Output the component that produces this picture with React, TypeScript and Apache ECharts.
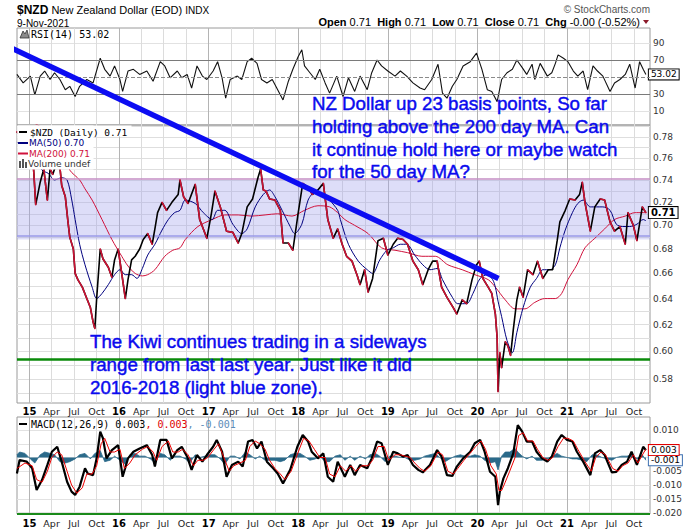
import React, { useEffect, useRef } from 'react';
import * as echarts from 'echarts';

// x values are decimal years (2015.50 = early July 2015)
const nzdClose: [number, number][] = [
  [2014.86,0.785],[2014.91,0.78],[2014.95,0.775],[2015.00,0.78],[2015.03,0.77],[2015.05,0.745],[2015.07,0.718],[2015.12,0.738],[2015.16,0.75],[2015.20,0.722],[2015.23,0.75],[2015.26,0.745],[2015.30,0.755],[2015.33,0.76],[2015.36,0.735],[2015.40,0.725],[2015.43,0.703],[2015.45,0.69],[2015.49,0.68],[2015.51,0.66],[2015.54,0.655],[2015.59,0.649],[2015.64,0.64],[2015.68,0.633],[2015.71,0.622],[2015.73,0.617],[2015.75,0.64],[2015.79,0.68],[2015.82,0.672],[2015.88,0.665],[2015.92,0.657],[2015.95,0.671],[2015.99,0.68],
  [2016.03,0.66],[2016.07,0.64],[2016.10,0.655],[2016.14,0.671],[2016.18,0.674],[2016.23,0.68],[2016.27,0.688],[2016.32,0.693],[2016.37,0.684],[2016.40,0.697],[2016.43,0.711],[2016.48,0.72],[2016.53,0.713],[2016.59,0.72],[2016.66,0.727],[2016.68,0.74],[2016.72,0.725],[2016.77,0.719],[2016.85,0.736],[2016.90,0.705],[2016.98,0.689],
  [2017.03,0.71],[2017.07,0.73],[2017.13,0.716],[2017.20,0.695],[2017.27,0.694],[2017.33,0.685],[2017.37,0.693],[2017.43,0.716],[2017.49,0.723],[2017.55,0.742],[2017.58,0.75],[2017.61,0.731],[2017.64,0.73],[2017.68,0.723],[2017.74,0.722],[2017.80,0.713],[2017.83,0.685],[2017.89,0.685],[2017.94,0.679],
  [2018.00,0.711],[2018.05,0.737],[2018.11,0.733],[2018.16,0.727],[2018.22,0.731],[2018.28,0.737],[2018.33,0.705],[2018.39,0.689],[2018.44,0.697],[2018.49,0.684],[2018.54,0.674],[2018.60,0.67],[2018.66,0.658],[2018.69,0.651],[2018.74,0.663],[2018.78,0.645],[2018.83,0.656],[2018.89,0.687],[2018.95,0.689],
  [2019.00,0.675],[2019.06,0.684],[2019.11,0.689],[2019.17,0.688],[2019.22,0.684],[2019.28,0.67],[2019.34,0.663],[2019.39,0.651],[2019.45,0.663],[2019.50,0.67],[2019.55,0.67],[2019.60,0.649],[2019.66,0.641],[2019.73,0.633],[2019.77,0.628],[2019.83,0.639],[2019.88,0.636],[2019.94,0.655],[2019.99,0.667],
  [2020.02,0.67],[2020.06,0.656],[2020.12,0.649],[2020.16,0.644],[2020.20,0.628],[2020.22,0.61],[2020.23,0.571],[2020.25,0.599],[2020.27,0.588],[2020.31,0.607],[2020.34,0.604],[2020.37,0.597],[2020.40,0.616],[2020.44,0.639],[2020.47,0.649],[2020.51,0.641],[2020.56,0.663],[2020.62,0.659],[2020.67,0.67],[2020.73,0.656],[2020.79,0.663],[2020.84,0.663],[2020.89,0.687],[2020.92,0.703],[2020.98,0.713],
  [2021.03,0.723],[2021.09,0.722],[2021.14,0.727],[2021.17,0.738],[2021.20,0.72],[2021.26,0.695],[2021.31,0.716],[2021.37,0.723],[2021.42,0.722],[2021.48,0.703],[2021.53,0.695],[2021.59,0.699],[2021.65,0.684],[2021.68,0.711],[2021.74,0.70],[2021.78,0.687],[2021.84,0.716],[2021.88,0.711]
];

const ma50: [number, number][] = [
  [2014.86,0.775],[2014.95,0.77],[2015.04,0.765],[2015.14,0.749],[2015.21,0.746],[2015.28,0.74],[2015.36,0.742],[2015.42,0.74],[2015.47,0.723],[2015.51,0.705],[2015.56,0.684],[2015.62,0.667],[2015.70,0.649],[2015.75,0.64],[2015.81,0.644],[2015.88,0.651],[2015.95,0.659],
  [2016.01,0.663],[2016.07,0.659],[2016.14,0.659],[2016.20,0.656],[2016.26,0.664],[2016.32,0.675],[2016.40,0.684],[2016.48,0.696],[2016.55,0.705],[2016.62,0.711],[2016.68,0.713],[2016.74,0.722],[2016.85,0.719],[2016.94,0.711],
  [2017.04,0.705],[2017.10,0.713],[2017.18,0.713],[2017.27,0.701],[2017.37,0.693],[2017.43,0.697],[2017.52,0.716],[2017.61,0.727],[2017.68,0.731],[2017.74,0.725],[2017.82,0.713],[2017.91,0.699],[2017.96,0.693],
  [2018.04,0.701],[2018.11,0.722],[2018.19,0.729],[2018.28,0.727],[2018.35,0.722],[2018.44,0.713],[2018.47,0.705],[2018.56,0.684],[2018.67,0.67],[2018.77,0.663],[2018.83,0.66],[2018.91,0.671],[2018.99,0.679],
  [2019.06,0.681],[2019.14,0.684],[2019.21,0.684],[2019.30,0.675],[2019.39,0.667],[2019.47,0.663],[2019.55,0.664],[2019.61,0.655],[2019.72,0.641],[2019.78,0.636],[2019.88,0.636],[2019.95,0.644],
  [2020.03,0.656],[2020.11,0.659],[2020.17,0.655],[2020.20,0.649],[2020.23,0.638],[2020.27,0.626],[2020.33,0.608],[2020.39,0.599],[2020.44,0.614],[2020.51,0.633],[2020.59,0.649],[2020.66,0.656],[2020.73,0.663],[2020.81,0.663],[2020.87,0.667],[2020.92,0.681],[2020.98,0.696],
  [2021.06,0.711],[2021.12,0.719],[2021.18,0.722],[2021.26,0.716],[2021.33,0.716],[2021.40,0.716],[2021.48,0.713],[2021.55,0.701],[2021.62,0.699],[2021.70,0.699],[2021.78,0.701],[2021.85,0.705],[2021.88,0.704]
];

const ma200: [number, number][] = [
  [2014.86,0.80],[2015.12,0.79],[2015.34,0.77],[2015.45,0.749],[2015.56,0.74],[2015.62,0.732],[2015.70,0.722],[2015.81,0.705],[2015.92,0.688],
  [2016.03,0.674],[2016.10,0.666],[2016.18,0.66],[2016.26,0.658],[2016.32,0.659],[2016.40,0.663],[2016.51,0.674],[2016.60,0.679],[2016.68,0.681],[2016.74,0.688],[2016.88,0.699],
  [2017.04,0.705],[2017.18,0.709],[2017.33,0.709],[2017.48,0.708],[2017.63,0.709],[2017.77,0.71],[2017.93,0.708],
  [2018.07,0.713],[2018.22,0.717],[2018.35,0.716],[2018.44,0.711],[2018.52,0.705],[2018.63,0.70],[2018.78,0.693],[2018.93,0.681],
  [2019.08,0.679],[2019.22,0.677],[2019.38,0.674],[2019.53,0.674],[2019.67,0.667],[2019.83,0.663],[2019.97,0.659],
  [2020.12,0.655],[2020.20,0.649],[2020.31,0.639],[2020.42,0.632],[2020.53,0.632],[2020.64,0.637],[2020.75,0.64],[2020.87,0.64],[2020.94,0.644],
  [2021.01,0.655],[2021.11,0.667],[2021.20,0.681],[2021.31,0.689],[2021.42,0.697],[2021.53,0.705],[2021.65,0.708],[2021.76,0.711],[2021.88,0.711]
];

const rsi14: [number, number][] = [
  [2014.86,53],[2014.93,43],[2015.01,51],[2015.06,29],[2015.12,51],[2015.17,57],[2015.23,47],[2015.28,55],[2015.34,47],[2015.40,35],[2015.45,39],[2015.51,27],[2015.56,39],[2015.64,47],[2015.71,43],[2015.79,72],[2015.84,59],[2015.90,51],[2015.95,63],
  [2016.01,47],[2016.04,33],[2016.10,57],[2016.16,59],[2016.23,53],[2016.31,57],[2016.38,45],[2016.46,68],[2016.51,63],[2016.57,49],[2016.65,57],[2016.70,49],[2016.76,53],[2016.81,37],[2016.87,63],[2016.93,51],[2016.98,47],
  [2017.05,57],[2017.10,68],[2017.15,49],[2017.19,25],[2017.24,47],[2017.32,51],[2017.37,47],[2017.43,68],[2017.48,72],[2017.54,66],[2017.59,47],[2017.65,43],[2017.71,47],[2017.76,37],[2017.83,23],[2017.89,45],[2017.94,59],
  [2018.00,74],[2018.04,82],[2018.07,63],[2018.13,55],[2018.19,47],[2018.24,59],[2018.30,43],[2018.35,31],[2018.43,51],[2018.50,27],[2018.56,49],[2018.63,33],[2018.69,51],[2018.77,35],[2018.82,55],[2018.88,70],[2018.93,63],
  [2019.00,57],[2019.08,51],[2019.14,57],[2019.21,51],[2019.28,43],[2019.36,37],[2019.41,35],[2019.49,47],[2019.56,65],[2019.61,31],[2019.66,25],[2019.72,39],[2019.77,47],[2019.84,63],[2019.92,68],[2019.99,78],
  [2020.05,59],[2020.11,35],[2020.16,33],[2020.22,21],[2020.27,47],[2020.33,55],[2020.39,59],[2020.44,70],[2020.50,61],[2020.55,53],[2020.61,65],[2020.64,47],[2020.70,66],[2020.78,51],[2020.83,55],[2020.87,66],[2020.90,76],[2020.96,72],
  [2021.01,68],[2021.07,57],[2021.12,51],[2021.18,57],[2021.23,35],[2021.29,63],[2021.34,57],[2021.40,51],[2021.48,33],[2021.53,43],[2021.59,47],[2021.65,53],[2021.70,65],[2021.76,37],[2021.81,68],[2021.85,59],[2021.88,53.02]
];

const macdLine: [number, number][] = [
  [2014.86,-0.0058],[2014.89,-0.0009],[2014.97,-0.0015],[2015.03,-0.0039],[2015.08,-0.0118],[2015.14,-0.0082],[2015.20,-0.0027],[2015.25,0.0021],[2015.31,0.0039],[2015.36,-0.0015],[2015.42,-0.0088],[2015.47,-0.0124],[2015.51,-0.0136],[2015.56,-0.0106],[2015.62,-0.0039],[2015.65,-0.0058],[2015.71,-0.0064],[2015.75,-0.0003],[2015.79,0.0094],[2015.82,0.0070],[2015.86,-0.0003],[2015.92,0.0027],[2015.99,0.0045],
  [2016.04,-0.0070],[2016.10,-0.0003],[2016.16,0.0021],[2016.23,0.0033],[2016.31,0.0045],[2016.37,0.0009],[2016.40,-0.0033],[2016.46,0.0064],[2016.53,0.0064],[2016.59,-0.0003],[2016.65,0.0027],[2016.70,0.0039],[2016.76,0.0003],[2016.81,-0.0045],[2016.87,0.0009],[2016.93,-0.0015],[2016.98,0.0009],
  [2017.05,0.0039],[2017.09,0.0064],[2017.15,0.0021],[2017.20,-0.0070],[2017.26,-0.0027],[2017.33,-0.0015],[2017.38,-0.0033],[2017.44,0.0058],[2017.49,0.0064],[2017.54,0.0033],[2017.59,0.0058],[2017.65,-0.0015],[2017.72,-0.0039],[2017.77,-0.0058],[2017.83,-0.0094],[2017.91,-0.0045],[2017.99,0.0039],
  [2018.05,0.0082],[2018.11,0.0058],[2018.15,0.0021],[2018.22,-0.0003],[2018.28,0.0015],[2018.33,-0.0070],[2018.39,-0.0088],[2018.44,-0.0015],[2018.52,-0.0070],[2018.58,-0.0027],[2018.63,-0.0064],[2018.69,-0.0027],[2018.77,-0.0039],[2018.82,-0.0003],[2018.88,0.0058],[2018.93,0.0052],
  [2019.00,-0.0027],[2019.06,0.0021],[2019.11,0.0015],[2019.17,0.0003],[2019.22,0.0009],[2019.28,-0.0027],[2019.34,-0.0045],[2019.39,-0.0054],[2019.47,-0.0027],[2019.55,0.0027],[2019.60,0.0003],[2019.66,-0.0064],[2019.72,-0.0067],[2019.77,-0.0033],[2019.84,-0.0003],[2019.92,0.0021],[2019.97,0.0052],
  [2020.03,0.0064],[2020.08,0.0021],[2020.14,-0.0052],[2020.20,-0.0070],[2020.23,-0.0173],[2020.25,-0.0124],[2020.29,-0.0076],[2020.34,-0.0039],[2020.40,0.0015],[2020.45,0.0118],[2020.50,0.0094],[2020.55,0.0058],[2020.61,0.0058],[2020.66,0.0021],[2020.72,-0.0003],[2020.78,-0.0015],[2020.83,0.0003],[2020.89,0.0058],[2020.94,0.0082],
  [2021.00,0.0064],[2021.06,0.0058],[2021.11,0.0021],[2021.18,-0.0015],[2021.26,-0.0064],[2021.31,0.0015],[2021.37,0.0027],[2021.42,0.0009],[2021.50,-0.0054],[2021.55,-0.0052],[2021.61,-0.0027],[2021.67,-0.0015],[2021.72,0.0021],[2021.78,-0.0027],[2021.85,0.0039],[2021.88,0.0027]
];

const macdSignal: [number, number][] = [
  [2014.86,-0.004],[2014.95,-0.002],[2015.03,-0.003],[2015.08,-0.008],[2015.14,-0.009],[2015.20,-0.005],[2015.25,0.0],[2015.31,0.002],[2015.36,0.001],[2015.42,-0.005],[2015.47,-0.010],[2015.53,-0.013],[2015.59,-0.011],[2015.64,-0.006],[2015.70,-0.006],[2015.75,-0.003],[2015.80,0.005],[2015.84,0.007],[2015.90,0.002],[2015.95,0.002],
  [2016.01,0.003],[2016.06,-0.004],[2016.12,-0.002],[2016.18,0.001],[2016.26,0.003],[2016.32,0.004],[2016.38,0.002],[2016.42,-0.001],[2016.48,0.004],[2016.55,0.006],[2016.60,0.002],[2016.66,0.002],[2016.71,0.003],[2016.77,0.001],[2016.83,-0.003],[2016.88,-0.001],[2016.94,-0.001],[2016.99,0.0],
  [2017.06,0.003],[2017.11,0.005],[2017.17,0.0],[2017.23,-0.005],[2017.28,-0.003],[2017.35,-0.002],[2017.41,-0.001],[2017.46,0.004],[2017.52,0.006],[2017.57,0.005],[2017.63,0.003],[2017.68,-0.001],[2017.74,-0.004],[2017.80,-0.006],[2017.85,-0.008],[2017.92,-0.005],
  [2018.00,0.002],[2018.06,0.007],[2018.12,0.006],[2018.18,0.003],[2018.24,0.0],[2018.30,0.0],[2018.35,-0.006],[2018.41,-0.007],[2018.47,-0.003],[2018.53,-0.005],[2018.59,-0.003],[2018.64,-0.005],[2018.71,-0.003],[2018.78,-0.003],[2018.83,-0.001],[2018.89,0.004],[2018.96,0.004],
  [2019.01,-0.001],[2019.08,0.001],[2019.14,0.001],[2019.19,0.0005],[2019.25,0.0],[2019.30,-0.002],[2019.36,-0.004],[2019.41,-0.005],[2019.48,-0.003],[2019.56,0.002],[2019.61,0.001],[2019.67,-0.005],[2019.73,-0.006],[2019.78,-0.004],[2019.85,-0.001],[2019.93,0.002],[2019.98,0.004],
  [2020.04,0.006],[2020.09,0.003],[2020.15,-0.003],[2020.21,-0.006],[2020.24,-0.012],[2020.27,-0.012],[2020.31,-0.009],[2020.36,-0.005],[2020.42,0.0],[2020.46,0.008],[2020.51,0.009],[2020.56,0.006],[2020.62,0.006],[2020.67,0.003],[2020.73,0.0],[2020.79,-0.001],[2020.84,0.0],[2020.90,0.004],[2020.96,0.007],
  [2021.01,0.007],[2021.07,0.006],[2021.12,0.003],[2021.19,-0.001],[2021.27,-0.005],[2021.32,0.0],[2021.38,0.002],[2021.43,0.001],[2021.51,-0.004],[2021.57,-0.005],[2021.62,-0.003],[2021.68,-0.002],[2021.74,0.001],[2021.79,-0.002],[2021.86,0.002],[2021.88,0.003]
];

const macdHist: [number, number][] = [
  [2014.86,0.001],[2014.89,0.002],[2014.95,0.0015],[2015.01,-0.0005],[2015.06,-0.002],[2015.12,0.001],[2015.17,0.002],[2015.23,0.0015],[2015.28,0.001],[2015.34,-0.0015],[2015.40,-0.002],[2015.45,-0.0015],[2015.51,-0.0005],[2015.56,0.001],[2015.62,0.0015],[2015.68,-0.0005],[2015.73,0.0015],[2015.79,0.0025],[2015.84,-0.0015],[2015.90,-0.001],[2015.95,0.0005],
  [2016.01,-0.001],[2016.07,-0.0025],[2016.12,0.001],[2016.18,0.0015],[2016.23,0.0005],[2016.29,0.0005],[2016.35,-0.0005],[2016.40,-0.002],[2016.46,0.0015],[2016.51,0.001],[2016.57,-0.001],[2016.62,0.0005],[2016.68,0.0005],[2016.74,-0.0005],[2016.79,-0.002],[2016.85,0.001],[2016.90,0.0],[2016.96,0.0005],
  [2017.01,0.001],[2017.07,0.001],[2017.13,-0.0005],[2017.18,-0.0025],[2017.24,0.0005],[2017.29,0.0005],[2017.35,-0.0005],[2017.41,0.002],[2017.46,0.001],[2017.52,-0.0005],[2017.57,0.0005],[2017.63,-0.001],[2017.68,-0.001],[2017.74,-0.001],[2017.80,-0.0015],[2017.85,-0.001],[2017.91,0.001],[2017.96,0.0015],
  [2018.02,0.0015],[2018.07,0.0005],[2018.13,-0.001],[2018.19,-0.0005],[2018.24,0.0005],[2018.30,-0.0015],[2018.35,-0.0015],[2018.41,0.0005],[2018.47,0.001],[2018.52,-0.001],[2018.58,0.0005],[2018.63,-0.001],[2018.69,0.0005],[2018.75,-0.0005],[2018.80,0.001],[2018.86,0.0015],[2018.91,0.0005],[2018.97,-0.0015],
  [2019.02,0.0005],[2019.08,0.0005],[2019.14,0.0],[2019.19,0.0],[2019.25,-0.001],[2019.30,-0.001],[2019.36,-0.0005],[2019.41,0.0005],[2019.47,0.001],[2019.53,0.0015],[2019.58,0.0],[2019.64,-0.0015],[2019.69,-0.0005],[2019.75,0.0005],[2019.81,0.001],[2019.86,0.0005],[2019.92,0.0005],[2019.97,0.001],
  [2020.03,0.0005],[2020.08,-0.001],[2020.14,-0.002],[2020.20,-0.0015],[2020.23,-0.0045],[2020.27,0.0005],[2020.31,0.002],[2020.36,0.002],[2020.42,0.0033],[2020.45,0.002],[2020.50,0.0005],[2020.55,-0.0005],[2020.61,0.0005],[2020.66,-0.001],[2020.72,-0.001],[2020.78,-0.0005],[2020.83,0.0005],[2020.89,0.0015],[2020.94,0.0005],
  [2021.00,0.0],[2021.06,-0.0005],[2021.11,-0.0005],[2021.17,-0.001],[2021.22,-0.0015],[2021.28,0.001],[2021.33,0.001],[2021.39,0.0],[2021.45,-0.0005],[2021.50,-0.001],[2021.55,0.0],[2021.61,0.0005],[2021.67,0.0005],[2021.72,0.001],[2021.78,-0.0005],[2021.84,0.001],[2021.88,-0.001]
];

// hand-drawn annotation: downward trend line (two anchor points, date / price)
const trendLine: [number, number][] = [[2014.66, 0.876], [2020.235, 0.656]];
const zoneTop = 0.74;
const zoneBottom = 0.688;
const supportLevel = 0.595;

const priceLabels = [0.58, 0.60, 0.62, 0.64, 0.66, 0.68, 0.70, 0.72, 0.74, 0.76, 0.78];
const priceGrid = [0.57,0.58,0.59,0.60,0.61,0.62,0.63,0.64,0.65,0.66,0.67,0.68,0.69,0.70,0.71,0.72,0.73,0.74,0.75,0.76,0.77,0.78,0.79];
const rsiLabels = [10, 30, 70, 90];
const macdLabels = [-0.02, -0.015, -0.01, -0.005, 0.01];
const macdGrid = [-0.02, -0.015, -0.01, -0.005, 0, 0.005, 0.01];
const years = [2015, 2016, 2017, 2018, 2019, 2020, 2021];
const quarterOffsets = [0, 0.247, 0.496, 0.748];

const X_MIN = 2014.861;
const X_MAX = 2021.926;
const P_MIN = Math.log(0.5632);
const P_MAX = Math.log(0.7915);
const R_MIN = -6.5;
const R_MAX = 107.6;
const M_MIN = -0.02054;
const M_MAX = 0.01473;

const SANS = 'Liberation Sans, Arial, sans-serif';
const VERD = 'DejaVu Sans, Verdana, sans-serif';
const MONO = 'DejaVu Sans Mono, monospace';
const NOTE_BLUE = '#0a0aee';

export default function App() {
  const ref = useRef<HTMLDivElement>(null);

  useEffect(() => {
    if (!ref.current) return;
    const chart = echarts.init(ref.current, null, { renderer: 'svg' });

    const quarters: number[] = [];
    years.forEach((y) => quarterOffsets.forEach((q) => quarters.push(y + q)));

    const ln = (arr: [number, number][]) => arr.map(([t, p]) => [t, Math.log(p)]);
    const priceLn = ln(nzdClose);
    const downSegs: any[] = [];
    for (let i = 1; i < priceLn.length; i++) {
      if (priceLn[i][1] < priceLn[i - 1][1]) {
        downSegs.push(priceLn[i - 1], priceLn[i], [priceLn[i][0], '-']);
      }
    }

    const fmtX = (v: number) => {
      const y = Math.floor(v + 1e-6);
      const f = v - y;
      if (f < 0.05) return `{y|${String(y).slice(2)}}`;
      return f < 0.35 ? 'Apr' : f < 0.6 ? 'Jul' : 'Oct';
    };

    const qAxis = (gridIndex: number, labels: boolean, margin: number) => ({
      type: 'value', gridIndex, min: X_MIN, max: X_MAX,
      axisLine: { show: false },
      axisTick: { show: false, customValues: quarters },
      splitLine: { show: true, lineStyle: { color: '#dcdcdc', width: 1 } },
      axisLabel: labels
        ? {
            show: true, customValues: quarters, formatter: fmtX, margin,
            fontFamily: VERD, fontSize: 9.5, color: '#222',
            rich: { y: { fontFamily: VERD, fontSize: 10, fontWeight: 'bold', color: '#000' } },
          }
        : { show: false },
    });
    const yearAxis = (gridIndex: number) => ({
      type: 'value', gridIndex, min: X_MIN, max: X_MAX,
      axisLine: { show: false },
      axisTick: { show: false, customValues: years },
      axisLabel: { show: false },
      splitLine: { show: true, lineStyle: { color: '#b4b4b4', width: 1 } },
    });

    const axisLabelBase = { fontFamily: VERD, fontSize: 9, color: '#333', margin: 3 };

    const boxLabel = (fmt: (v: number) => string, border: string, bold = false) => ({
      show: true,
      formatter: (p: any) => fmt(p.value[1]),
      distance: 3,
      fontFamily: VERD,
      fontSize: bold ? 10 : 9,
      fontWeight: bold ? 'bold' : 'normal',
      color: '#000',
      backgroundColor: '#fff',
      borderColor: border,
      borderWidth: 1,
      padding: [1, 2, 0, 2],
    });

    const noteStyle = (text: string) => ({
      text, fontFamily: SANS, fontSize: 18.7, lineHeight: 22.6,
      fill: NOTE_BLUE, stroke: NOTE_BLUE, lineWidth: 0.45, verticalAlign: 'top',
    });

    const option: any = {
      animation: false,
      backgroundColor: '#fff',
      grid: [
        { left: 17, top: 28, width: 633, height: 97, show: true, borderColor: '#9a9a9a', borderWidth: 1, backgroundColor: 'transparent' },
        { left: 17, top: 125, width: 633, height: 278, show: true, borderColor: '#9a9a9a', borderWidth: 1, backgroundColor: 'transparent' },
        { left: 17, top: 417, width: 633, height: 97, show: true, borderColor: '#9a9a9a', borderWidth: 1, backgroundColor: 'transparent' },
      ],
      xAxis: [
        qAxis(0, false, 0), yearAxis(0),
        qAxis(1, true, 3), yearAxis(1),
        qAxis(2, true, 4), yearAxis(2),
      ],
      yAxis: [
        {
          type: 'value', gridIndex: 0, position: 'right', min: R_MIN, max: R_MAX,
          axisLine: { show: false },
          axisTick: { show: false, customValues: [10, 90] },
          splitLine: { show: true, lineStyle: { color: '#e2e2e2' } },
          axisLabel: { ...axisLabelBase, customValues: rsiLabels },
        },
        {
          type: 'value', gridIndex: 1, position: 'right', min: P_MIN, max: P_MAX,
          axisLine: { show: false },
          axisTick: { show: false, customValues: priceGrid.map((v) => Math.log(v)) },
          splitLine: { show: true, lineStyle: { color: '#dedede' } },
          axisLabel: { ...axisLabelBase, customValues: priceLabels.map((v) => Math.log(v)), formatter: (v: number) => Math.exp(v).toFixed(2) },
        },
        {
          type: 'value', gridIndex: 2, position: 'right', min: M_MIN, max: M_MAX,
          axisLine: { show: false },
          axisTick: { show: false, customValues: macdGrid },
          splitLine: { show: true, lineStyle: { color: '#e2e2e2' } },
          axisLabel: { ...axisLabelBase, customValues: macdLabels, formatter: (v: number) => v.toFixed(3) },
        },
      ],
      series: [
        {
          name: 'RSI(14)', type: 'line', xAxisIndex: 0, yAxisIndex: 0, data: rsi14,
          symbol: 'none', lineStyle: { color: '#111', width: 1.1 }, z: 3,
          markLine: {
            silent: true, symbol: 'none', label: { show: false },
            data: [
              { yAxis: 70, lineStyle: { color: '#7a7a7a', type: 'solid', width: 1 } },
              { yAxis: 30, lineStyle: { color: '#7a7a7a', type: 'solid', width: 1 } },
              { yAxis: 50, lineStyle: { color: '#8a8a8a', type: 'dashed', width: 1 } },
            ],
          },
          endLabel: boxLabel((v) => v.toFixed(2), '#000'),
        },
        {
          name: 'MA(200)', type: 'line', xAxisIndex: 2, yAxisIndex: 1, data: ln(ma200),
          symbol: 'none', smooth: 0.3, lineStyle: { color: '#d0123c', width: 1 }, z: 3,
          markArea: {
            silent: true,
            itemStyle: { color: 'rgba(160,160,235,0.36)' },
            data: [[{ yAxis: Math.log(zoneTop) }, { yAxis: Math.log(zoneBottom) }]],
          },
          markLine: {
            silent: true, symbol: 'none', label: { show: false },
            data: [
              { yAxis: Math.log(zoneTop), lineStyle: { color: '#c48ec4', type: 'solid', width: 1.5 } },
              { yAxis: Math.log(zoneBottom), lineStyle: { color: '#9a9ae8', type: 'solid', width: 1.5 } },
              { yAxis: Math.log(supportLevel), lineStyle: { color: '#0a8a0a', type: 'solid', width: 2.5 } },
            ],
          },
        },
        {
          name: 'MA(50)', type: 'line', xAxisIndex: 2, yAxisIndex: 1, data: ln(ma50),
          symbol: 'none', smooth: 0.3, lineStyle: { color: '#00007f', width: 1 }, z: 4,
        },
        {
          name: '$NZD', type: 'line', xAxisIndex: 2, yAxisIndex: 1, data: priceLn,
          symbol: 'none', lineStyle: { color: '#000', width: 1.6 }, z: 5,
          endLabel: boxLabel((v) => Math.exp(v).toFixed(2), '#000', true),
        },
        {
          name: '$NZD down', type: 'line', xAxisIndex: 2, yAxisIndex: 1, data: downSegs,
          symbol: 'none', connectNulls: false, lineStyle: { color: '#cc1133', width: 1.6, cap: 'round' }, z: 6,
        },
        {
          name: 'Trend', type: 'line', xAxisIndex: 2, yAxisIndex: 1, data: ln(trendLine),
          symbol: 'none', clip: false, lineStyle: { color: '#0c0cf2', width: 5.5 }, z: 10,
        },
        {
          name: 'Histogram', type: 'line', xAxisIndex: 4, yAxisIndex: 2, data: macdHist,
          symbol: 'none', lineStyle: { color: '#2b6a8a', width: 0.8 },
          areaStyle: { color: '#2b6a8a', opacity: 1 }, z: 2,
          endLabel: boxLabel((v) => v.toFixed(3), '#3d6fb0'),
        },
        {
          name: 'MACD', type: 'line', xAxisIndex: 4, yAxisIndex: 2, data: macdLine,
          symbol: 'none', lineStyle: { color: '#000', width: 2.2 }, z: 3,
          endLabel: boxLabel((v) => v.toFixed(3), '#e00000'),
        },
        {
          name: 'Signal', type: 'line', xAxisIndex: 4, yAxisIndex: 2, data: macdSignal,
          symbol: 'none', lineStyle: { color: '#ee0000', width: 1 }, z: 4,
        },
      ],
      graphic: [
        { type: 'text', x: 17, y: 10, z: 100, style: { text: '{b|$NZD} New Zealand Dollar (EOD) {s|INDX}', fontFamily: SANS, fontSize: 11, fill: '#000', verticalAlign: 'middle', rich: { b: { fontFamily: SANS, fontSize: 12, fontWeight: 'bold', fill: '#000' }, s: { fontFamily: SANS, fontSize: 10, fill: '#000' } } } },
        { type: 'text', x: 17, y: 23, z: 100, style: { text: '9-Nov-2021', fontFamily: SANS, fontSize: 10, fill: '#000', verticalAlign: 'middle' } },
        { type: 'text', x: 650, y: 9, z: 100, style: { text: '© StockCharts.com', fontFamily: SANS, fontSize: 10, fill: '#555', align: 'right', verticalAlign: 'middle' } },
        { type: 'text', x: 640, y: 22, z: 100, style: { text: '{b|Open} 0.71  {b|High} 0.71  {b|Low} 0.71  {b|Close} 0.71  {b|Chg} -0.00 (-0.52%)', fontFamily: SANS, fontSize: 11, fill: '#000', align: 'right', verticalAlign: 'middle', rich: { b: { fontFamily: SANS, fontSize: 11, fontWeight: 'bold', fill: '#000' } } } },
        { type: 'polygon', z: 100, shape: { points: [[643, 20], [649, 20], [646, 24]] }, style: { fill: '#8b1a2a' } },

        // RSI legend
        { type: 'polygon', z: 100, shape: { points: [[20, 38], [23, 31], [25, 34], [27, 30], [29, 38]] }, style: { fill: '#8a8a8a', stroke: '#333', lineWidth: 0.8 } },
        { type: 'text', x: 31, y: 34, z: 100, style: { text: 'RSI(14) 53.02', fontFamily: MONO, fontSize: 10, fill: '#000', verticalAlign: 'middle' } },

        // price legend
        { type: 'rect', z: 99, shape: { x: 17.5, y: 125.5, width: 114, height: 11 }, style: { fill: '#fff' } },
        { type: 'rect', z: 99, shape: { x: 17.5, y: 125.5, width: 76, height: 44 }, style: { fill: '#fff' } },
        { type: 'line', z: 100, shape: { x1: 19, y1: 132, x2: 27, y2: 132 }, style: { stroke: '#000', lineWidth: 2 } },
        { type: 'text', x: 30, y: 132, z: 100, style: { text: '$NZD (Daily) 0.71', fontFamily: MONO, fontSize: 9.5, fill: '#000', verticalAlign: 'middle' } },
        { type: 'line', z: 100, shape: { x1: 18, y1: 143, x2: 28, y2: 143 }, style: { stroke: '#00007f', lineWidth: 2 } },
        { type: 'text', x: 29, y: 143, z: 100, style: { text: 'MA(50) 0.70', fontFamily: VERD, fontSize: 9, fill: '#00007f', verticalAlign: 'middle' } },
        { type: 'line', z: 100, shape: { x1: 18, y1: 153.5, x2: 28, y2: 153.5 }, style: { stroke: '#d0123c', lineWidth: 2 } },
        { type: 'text', x: 29, y: 153.5, z: 100, style: { text: 'MA(200) 0.71', fontFamily: VERD, fontSize: 9, fill: '#d0123c', verticalAlign: 'middle' } },
        { type: 'rect', z: 100, shape: { x: 19, y: 161, width: 2, height: 7 }, style: { fill: '#555' } },
        { type: 'rect', z: 100, shape: { x: 22, y: 159, width: 2, height: 9 }, style: { fill: '#555' } },
        { type: 'rect', z: 100, shape: { x: 25, y: 162, width: 2, height: 6 }, style: { fill: '#555' } },
        { type: 'text', x: 28, y: 164, z: 100, style: { text: 'Volume undef', fontFamily: VERD, fontSize: 9, fill: '#333', verticalAlign: 'middle' } },

        // MACD legend
        { type: 'line', z: 100, shape: { x1: 19, y1: 424, x2: 27, y2: 424 }, style: { stroke: '#000', lineWidth: 2 } },
        { type: 'text', x: 31, y: 424, z: 100, style: { text: '{k|MACD(12,26,9) 0.003}{r|, 0.003}{c|, -0.001}', fontFamily: MONO, fontSize: 10, fill: '#000', verticalAlign: 'middle', rich: { k: { fontFamily: MONO, fontSize: 10, fill: '#000' }, r: { fontFamily: MONO, fontSize: 10, fill: '#e00000' }, c: { fontFamily: MONO, fontSize: 10, fill: '#5b8cb8' } } } },

        // bottom border of MACD panel
        { type: 'line', z: 100, shape: { x1: 17, y1: 514, x2: 650, y2: 514 }, style: { stroke: '#1a8a1a', lineWidth: 2 } },

        // annotations
        { type: 'text', x: 312, y: 92.5, z: 110, style: noteStyle('NZ Dollar up 23 basis points, So far\nholding above the 200 day MA. Can\nit continue hold here or maybe watch\nfor the 50 day MA?') },
        { type: 'text', x: 90, y: 330.5, z: 110, style: noteStyle('The Kiwi continues trading in a sideways\nrange from last last year. Just like it did\n2016-2018 (light blue zone).') },
      ],
    };

    chart.setOption(option);
    return () => chart.dispose();
  }, []);

  return <div ref={ref} style={{ position: 'absolute', left: 0, top: 0, width: 700, height: 530, background: '#fff' }} />;
}
